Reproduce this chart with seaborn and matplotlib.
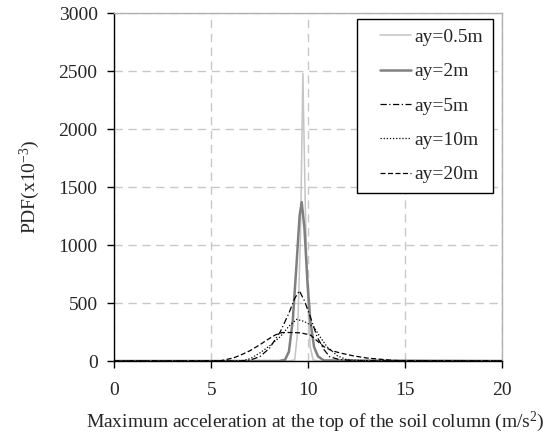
#!/usr/bin/env python3

import matplotlib

matplotlib.use("Agg")
import matplotlib.pylab as plt
import pandas as pd
import seaborn as sns
from matplotlib.legend_handler import HandlerLine2D
from matplotlib.lines import Line2D

# Values (x in m/s^2, PDF in x10^-3)
ay05_x = [0, 9.0, 9.3, 9.45, 9.6, 9.72, 9.85, 9.98, 10.1, 10.25, 10.5, 20]
ay05_y = [0, 0, 10, 250, 1100, 2480, 1300, 500, 120, 10, 0, 0]

ay2_x = [0, 8.5, 8.8, 9.0, 9.2, 9.4, 9.55, 9.66, 9.8, 9.95, 10.1, 10.3, 10.5, 10.8, 20]
ay2_y = [0, 0, 10, 80, 350, 850, 1250, 1370, 1150, 700, 350, 120, 40, 5, 0]

ay5_x = [0, 6.5, 7.0, 7.5, 8.0, 8.56, 9.0, 9.3, 9.54, 9.8, 10.1, 10.45, 10.8, 11.1, 11.6, 12.5, 20]
ay5_y = [0, 0, 8, 37, 110, 253, 412, 540, 605, 520, 383, 210, 100, 37, 12, 2, 0]

ay10_x = [0, 6.0, 6.66, 7.0, 7.5, 8.0, 8.56, 9.0, 9.41, 9.8, 10.27, 10.6, 10.96, 11.5, 12.0, 13.0, 20]
ay10_y = [0, 0, 5, 20, 69, 130, 210, 300, 360, 340, 297, 210, 124, 45, 10, 2, 0]

ay20_x = [0, 5.0, 5.5, 6.13, 6.5, 7.0, 7.5, 7.87, 8.3, 8.64, 9.0, 9.59, 10.1, 10.8, 11.2, 11.65, 12.3, 13.0, 14.4, 15.0, 20]
ay20_y = [0, 0, 3, 26, 50, 89, 140, 181, 225, 245, 246, 243, 225, 124, 90, 69, 45, 26, 5, 2, 0]

labels = ["ay=0.5m", "ay=2m", "ay=5m", "ay=10m", "ay=20m"]
xs = [ay05_x, ay2_x, ay5_x, ay10_x, ay20_x]
ys = [ay05_y, ay2_y, ay5_y, ay10_y, ay20_y]

rows = []
for label, x, y in zip(labels, xs, ys):
    for a, b in zip(x, y):
        rows.append({"series": label, "accel": a, "pdf": b})
df = pd.DataFrame(rows)

# line looks per series
colors = {
    "ay=0.5m": "#c4c4c4",
    "ay=2m": "#808080",
    "ay=5m": "black",
    "ay=10m": "black",
    "ay=20m": "black",
}
widths = {"ay=0.5m": 1.1, "ay=2m": 1.8, "ay=5m": 0.9, "ay=10m": 0.9, "ay=20m": 0.9}
dashes = {
    "ay=0.5m": (None, None),
    "ay=2m": (None, None),
    "ay=5m": (5, 2, 1, 2),
    "ay=10m": (1, 1.5),
    "ay=20m": (4, 2),
}

sns.set_style("white")
plt.rcParams["font.family"] = ["Liberation Serif", "DejaVu Serif"]
plt.rcParams["mathtext.fontset"] = "custom"
plt.rcParams["mathtext.rm"] = "Liberation Serif"
plt.rcParams["mathtext.it"] = "Liberation Serif:italic"
plt.rcParams["mathtext.default"] = "regular"

fig = plt.figure(figsize=(5.52, 4.36), dpi=100)
ax = fig.add_axes([0.207, 0.172, 0.703, 0.798])

for label in labels:
    sub = df[df.series == label]
    d = dashes[label]
    sns.lineplot(
        data=sub,
        x="accel",
        y="pdf",
        ax=ax,
        color=colors[label],
        linewidth=widths[label],
        label=label,
        estimator=None,
        sort=False,
    )
    if d[0] is not None:
        ax.lines[-1].set_dashes(d)

ax.set_xlim(0, 20)
ax.set_ylim(0, 3000)
ax.set_xticks([0, 5, 10, 15, 20])
ax.set_yticks(range(0, 3001, 500))
ax.grid(True, color="#c8c8c8", linestyle=(0, (6, 4)), linewidth=1)
ax.set_axisbelow(True)

for side in ["left", "bottom"]:
    ax.spines[side].set_color("black")
    ax.spines[side].set_linewidth(1)
for side in ["top", "right"]:
    ax.spines[side].set_color("#b0b0b0")
    ax.spines[side].set_linewidth(1)

ax.tick_params(axis="both", direction="out", length=5, width=1, color="black",
               labelsize=14, bottom=True, left=True)
ax.tick_params(axis="x", pad=10)
ax.tick_params(axis="y", pad=7)
ax.set_xlabel("Maximum acceleration at the top of the soil column (m/s$^2$)",
              fontsize=14, labelpad=8, x=0.518)
ax.set_ylabel("PDF(x10$^{-3}$)", fontsize=14, labelpad=12)

# Extra room left of the legend lines, like the original box
leg = ax.legend(
    loc="upper right",
    bbox_to_anchor=(0.985, 0.995),
    fontsize=14,
    frameon=True,
    fancybox=False,
    edgecolor="black",
    handlelength=2.3,
    labelspacing=0.86,
    borderpad=0.5,
    handletextpad=0.15,
    borderaxespad=0.2,
    handler_map={Line2D: HandlerLine2D(xpad=0.7)},
)
leg.get_frame().set_linewidth(1)
leg.get_frame().set_facecolor("white")
leg.get_frame().set_alpha(1)

plt.savefig("out.png", dpi=100)
plt.clf()
